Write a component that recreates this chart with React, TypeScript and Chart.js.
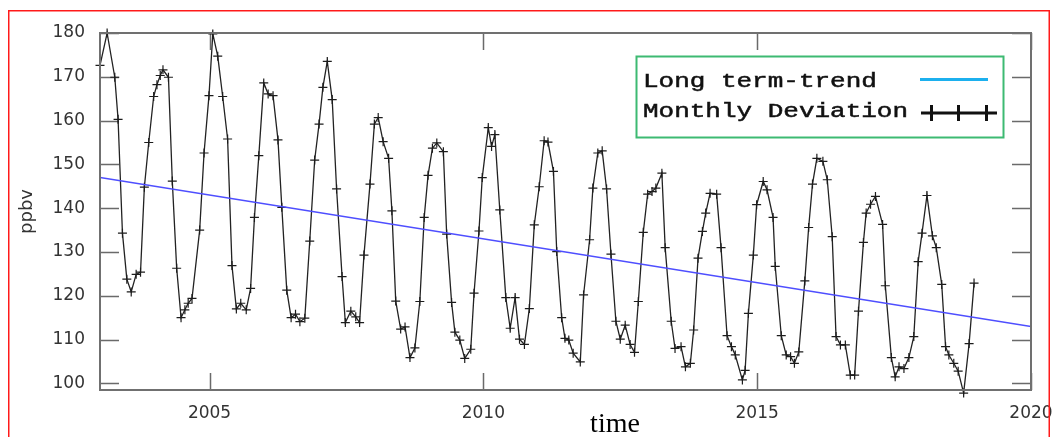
import React, { useEffect, useRef } from 'react';
import { Chart, registerables } from 'chart.js';

Chart.register(...registerables);

// ---- data ----
const monthTimes = [
  2003.00, 2003.13, 2003.27, 2003.33, 2003.41, 2003.49, 2003.57, 2003.66, 2003.74, 2003.81, 2003.89, 2003.98,
  2004.04, 2004.10, 2004.15, 2004.25, 2004.32, 2004.40, 2004.48, 2004.55, 2004.61, 2004.68, 2004.82, 2004.90,
  2004.99, 2005.06, 2005.15, 2005.24, 2005.33, 2005.41, 2005.49, 2005.57, 2005.67, 2005.75, 2005.82, 2005.90,
  2005.99, 2006.07, 2006.16, 2006.25, 2006.32, 2006.41, 2006.49, 2006.57, 2006.65, 2006.74, 2006.83, 2006.92,
  2007.00, 2007.07, 2007.15, 2007.24, 2007.32, 2007.42, 2007.48, 2007.58, 2007.67, 2007.74, 2007.82, 2007.93,
  2008.01, 2008.08, 2008.17, 2008.27, 2008.33, 2008.40, 2008.49, 2008.57, 2008.66, 2008.75, 2008.84, 2008.92,
  2008.99, 2009.07, 2009.15, 2009.27, 2009.33, 2009.42, 2009.48, 2009.57, 2009.66, 2009.77, 2009.83, 2009.92,
  2009.98, 2010.09, 2010.15, 2010.21, 2010.30, 2010.41, 2010.49, 2010.58, 2010.66, 2010.75, 2010.84, 2010.93,
  2011.02, 2011.11, 2011.18, 2011.28, 2011.34, 2011.43, 2011.49, 2011.56, 2011.64, 2011.77, 2011.83, 2011.94,
  2012.00, 2012.09, 2012.17, 2012.25, 2012.33, 2012.42, 2012.50, 2012.59, 2012.68, 2012.76, 2012.83, 2012.92,
  2013.00, 2013.08, 2013.15, 2013.26, 2013.32, 2013.43, 2013.50, 2013.61, 2013.69, 2013.78, 2013.84, 2013.92,
  2014.00, 2014.06, 2014.14, 2014.26, 2014.34, 2014.45, 2014.53, 2014.60, 2014.73, 2014.78, 2014.84, 2014.93,
  2014.99, 2015.11, 2015.18, 2015.29, 2015.33, 2015.44, 2015.53, 2015.61, 2015.68, 2015.76, 2015.87, 2015.94,
  2016.01, 2016.09, 2016.20, 2016.28, 2016.37, 2016.44, 2016.52, 2016.61, 2016.70, 2016.78, 2016.85, 2016.94,
  2016.99, 2017.07, 2017.16, 2017.29, 2017.34, 2017.45, 2017.52, 2017.59, 2017.68, 2017.77, 2017.86, 2017.94,
  2018.01, 2018.10, 2018.20, 2018.27, 2018.37, 2018.44, 2018.50, 2018.59, 2018.67, 2018.77, 2018.87, 2018.96,
];

const monthlyValues = [
  172.6, 180.0, 169.9, 160.3, 134.3, 123.8, 120.9, 124.9, 125.4, 144.8, 155.0, 165.5,
  168.2, 170.3, 171.6, 169.9, 146.2, 126.3, 115.0, 116.8, 118.3, 119.4, 135.0, 152.6,
  165.7, 179.8, 174.7, 165.5, 155.8, 126.9, 117.0, 118.3, 116.8, 121.7, 137.9, 152.0,
  168.6, 166.1, 165.7, 155.6, 140.2, 121.3, 115.0, 115.8, 114.1, 114.9, 132.5, 151.0,
  159.2, 167.6, 173.5, 164.8, 144.4, 124.4, 113.9, 116.5, 115.2, 113.9, 129.3, 145.5,
  159.2, 160.7, 155.2, 151.4, 139.4, 118.8, 112.4, 112.9, 105.9, 108.1, 118.7, 137.9,
  147.5, 153.7, 154.9, 152.9, 134.1, 118.5, 111.7, 109.9, 105.7, 107.8, 120.6, 134.8,
  147.0, 158.4, 154.1, 156.8, 139.6, 119.6, 112.6, 119.6, 110.1, 108.9, 117.1, 136.2,
  144.9, 155.4, 155.1, 148.4, 130.1, 115.0, 110.3, 109.9, 106.9, 104.9, 120.2, 132.8,
  144.6, 152.6, 153.1, 144.4, 129.5, 114.2, 110.1, 113.3, 108.9, 107.1, 118.7, 134.5,
  143.2, 143.8, 144.6, 148.0, 131.0, 114.2, 108.0, 108.4, 103.8, 104.6, 112.2, 128.6,
  134.7, 138.9, 143.4, 143.2, 131.0, 110.9, 108.4, 106.5, 100.8, 103.0, 116.0, 129.3,
  140.8, 146.1, 144.2, 137.9, 126.7, 110.9, 106.5, 106.1, 104.6, 107.2, 123.4, 135.6,
  145.5, 151.4, 150.7, 146.5, 133.5, 110.7, 108.8, 108.8, 101.9, 101.9, 116.5, 132.2,
  138.9, 140.9, 142.7, 136.3, 122.3, 105.9, 101.5, 103.8, 103.4, 105.9, 110.7, 127.8,
  134.3, 142.9, 133.7, 131.0, 122.6, 108.4, 106.5, 104.6, 102.8, 97.8, 109.1, 122.9,
];

const trendTimes = [2003, 2020];
const trendValues = [147.0, 113.0];

const yTickValues = [100, 110, 120, 130, 140, 150, 160, 170, 180];
const xTickValues = [2005, 2010, 2015, 2020];
const xRange = [2003, 2020];
const yRange = [98.5, 180];

const legendLabels = ['Long term-trend', 'Monthly Deviation'];
const xTitle = 'time';
const yTitle = 'ppbv';

export default function App() {
  const ref = useRef<HTMLCanvasElement>(null);

  useEffect(() => {
    const canvas = ref.current;
    if (!canvas) return;

    const decor = {
      id: 'decor',
      beforeDatasetsDraw(chart: any) {
        const { ctx, chartArea: a, scales } = chart;
        ctx.save();
        ctx.strokeStyle = '#6a6a6a';
        ctx.lineWidth = 1.5;
        ctx.beginPath();
        yTickValues.forEach((v) => {
          const y = Math.round(scales.y.getPixelForValue(v)) + 0.5;
          ctx.moveTo(a.left, y);
          ctx.lineTo(a.left + 19, y);
          ctx.moveTo(a.right, y);
          ctx.lineTo(a.right - 19, y);
        });
        xTickValues.forEach((v) => {
          const x = Math.round(scales.x.getPixelForValue(v)) + 0.5;
          ctx.moveTo(x, a.top);
          ctx.lineTo(x, a.top + 17);
          ctx.moveTo(x, a.bottom);
          ctx.lineTo(x, a.bottom - 17);
        });
        ctx.stroke();
        ctx.restore();
      },
      afterDatasetsDraw(chart: any) {
        const { ctx, chartArea: a } = chart;
        ctx.save();
        // plot frame
        ctx.strokeStyle = '#707070';
        ctx.lineWidth = 2;
        ctx.strokeRect(a.left, a.top, a.right - a.left, a.bottom - a.top);

        // legend box
        const bx = 636.5, by = 56.5, bw = 367, bh = 81;
        ctx.fillStyle = '#ffffff';
        ctx.fillRect(bx, by, bw, bh);
        ctx.strokeStyle = '#3dba72';
        ctx.lineWidth = 2;
        ctx.strokeRect(bx, by, bw, bh);

        ctx.font = '20px "Liberation Mono"';
        ctx.fillStyle = '#111111';
        ctx.textBaseline = 'alphabetic';
        ctx.textAlign = 'left';
        const mw = ctx.measureText(legendLabels[1]).width;
        const sx = 265 / mw;
        const drawStretched = (t: string, x: number, y: number) => {
          ctx.save();
          ctx.translate(x, y);
          ctx.scale(sx, 1);
          ctx.fillText(t, 0, 0);
          ctx.lineWidth = 0.5;
          ctx.strokeStyle = '#111111';
          ctx.strokeText(t, 0, 0);
          ctx.restore();
        };
        drawStretched(legendLabels[0], 643, 87);
        drawStretched(legendLabels[1], 643, 117);

        // trend sample
        ctx.strokeStyle = '#1cb0ee';
        ctx.lineWidth = 3;
        ctx.beginPath();
        ctx.moveTo(920, 79.5);
        ctx.lineTo(988, 79.5);
        ctx.stroke();

        // monthly sample
        ctx.strokeStyle = '#111111';
        ctx.lineWidth = 3;
        ctx.beginPath();
        ctx.moveTo(921, 113);
        ctx.lineTo(997, 113);
        [931.5, 958.5, 986.5].forEach((x) => {
          ctx.moveTo(x, 105);
          ctx.lineTo(x, 121);
        });
        ctx.stroke();

        // x title (off-centre as in the reference)
        ctx.font = '28px "Liberation Serif"';
        ctx.fillStyle = '#000000';
        ctx.textAlign = 'center';
        ctx.fillText(xTitle, 615, 432);

        // outer red frame
        ctx.strokeStyle = '#ff1a1a';
        ctx.lineWidth = 1.5;
        ctx.strokeRect(8.75, 10.75, 1040.5, 440);
        ctx.restore();
      },
    };

    const chart = new Chart(canvas, {
      type: 'line',
      data: {
        datasets: [
          {
            label: legendLabels[1],
            data: monthTimes.map((t, i) => ({ x: t, y: monthlyValues[i] })),
            borderColor: '#222222',
            borderWidth: 1.3,
            pointStyle: 'cross',
            pointRadius: 4.5,
            pointBorderWidth: 1.2,
            pointBorderColor: '#1c1c1c',
            pointBackgroundColor: '#1c1c1c',
            tension: 0,
            clip: false as any,
            order: 2,
          },
          {
            label: legendLabels[0],
            data: trendTimes.map((t, i) => ({ x: t, y: trendValues[i] })),
            borderColor: 'rgb(78,78,255)',
            borderWidth: 1.5,
            pointRadius: 0,
            tension: 0,
            order: 1,
          },
        ],
      },
      options: {
        animation: false,
        responsive: false,
        layout: { padding: { left: 0, right: 25, top: 33, bottom: 0 } },
        plugins: {
          legend: { display: false },
          tooltip: { enabled: false },
        },
        scales: {
          x: {
            type: 'linear',
            min: xRange[0],
            max: xRange[1],
            grid: { display: false },
            border: { display: false },
            afterBuildTicks: (s: any) => {
              s.ticks = xTickValues.map((v) => ({ value: v }));
            },
            afterFit: (s: any) => {
              s.height = 47;
              s.paddingLeft = 0;
              s.paddingRight = 0;
            },
            ticks: {
              padding: 5,
              autoSkip: false,
              maxRotation: 0,
              color: '#333333',
              font: { family: '"DejaVu Sans"', size: 17 },
              callback: (v: any) => String(v),
            },
          },
          y: {
            type: 'linear',
            min: yRange[0],
            max: yRange[1],
            grid: { display: false },
            border: { display: false },
            afterBuildTicks: (s: any) => {
              s.ticks = yTickValues.map((v) => ({ value: v }));
            },
            afterFit: (s: any) => {
              s.width = 100;
              s.paddingTop = 0;
              s.paddingBottom = 0;
            },
            ticks: {
              padding: 7,
              color: '#333333',
              font: { family: '"DejaVu Sans"', size: 17 },
              callback: (v: any) => String(v),
            },
            title: {
              display: true,
              text: yTitle,
              color: '#333333',
              font: { family: '"DejaVu Sans"', size: 18 },
              padding: { top: 17, bottom: 0 },
            },
          },
        },
      },
      plugins: [decor],
    });

    return () => chart.destroy();
  }, []);

  return (
    <div style={{ position: 'absolute', left: 0, top: 0, width: 1056, height: 437 }}>
      <canvas ref={ref} width={1056} height={437} style={{ display: 'block', width: 1056, height: 437 }} />
    </div>
  );
}
